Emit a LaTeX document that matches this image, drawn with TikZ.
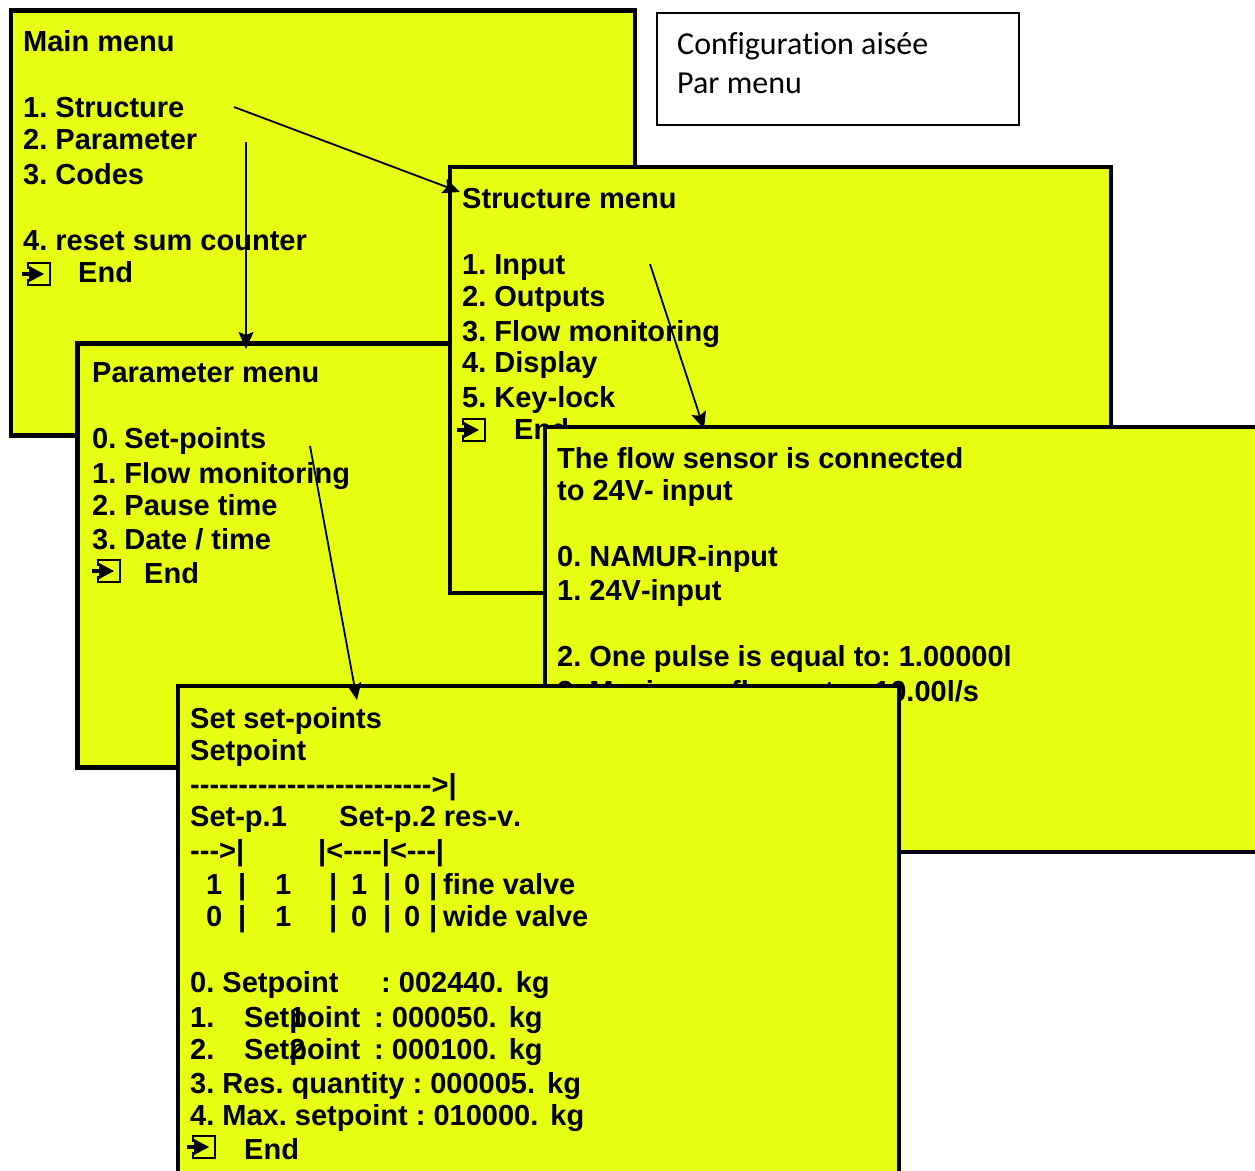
\documentclass[tikz,border=0pt]{standalone}
\usepackage{fontspec}
\usetikzlibrary{arrows.meta}
\newfontfamily\menufont{Liberation Sans}[Ligatures=NoCommon,Kerning=Off]
\newfontfamily\notefont{Carlito}[Ligatures=NoCommon]
\definecolor{menuyellow}{HTML}{E6FF12}
\newcommand{\kgunit}{.\hspace{4pt} kg}
\tikzset{
  menubox/.style={draw=black,line width=4.5pt,fill=menuyellow,anchor=north west,inner sep=0pt,outer sep=0pt},
  menuline/.style={anchor=base west,inner sep=0pt,font=\menufont\bfseries\fontsize{29}{29}\selectfont\frenchspacing},
  noteline/.style={anchor=base west,inner sep=0pt,font=\notefont\fontsize{32}{30}\selectfont},
  menulink/.style={line width=1.8pt,-{Stealth[length=17pt,width=15pt,inset=3pt]}},
  endicon/.pic={
    \draw[line width=1.8pt] (0,-5) -- (0,-11) -- (22,-11) -- (22,11) -- (0,11) -- (0,5);
    \draw[line width=4pt] (-6,0) -- (4,0);
    \fill (1,-8) -- (16,0) -- (1,8) -- cycle;
  }
}
\begin{document}
\begin{tikzpicture}[x=1pt,y=-1pt]
\clip (0,0) rectangle (1255,1170);

\node[draw=black,line width=1.5pt,fill=white,anchor=north west,inner sep=0pt,outer sep=0pt,minimum width=362pt,minimum height=112pt] (notebox) at (657,13) {};
\node[noteline] (note1) at (677,54) {Configuration aisée};
\node[noteline] (note2) at (677,93) {Par menu};

\node[menubox,minimum width=624pt,minimum height=425pt] (mainbox) at (11,10.5) {};
\node[menuline] (main0) at (23,51) {Main menu};
\foreach \y/\t in {117/{1. Structure},149/{2. Parameter},184/{3. Codes},250/{4. reset sum counter}}
  \node[menuline] (main\y) at (23,\y) {\t};
\pic at (28,274) {endicon};
\node[menuline] (mainend) at (78,282) {End};

\node[menubox,minimum width=640pt,minimum height=424pt] (parambox) at (77.5,343.5) {};
\node[menuline] (param0) at (92,382) {Parameter menu};
\foreach \y/\t in {448/{0. Set-points},483/{1. Flow monitoring},515/{2. Pause time},549/{3. Date / time}}
  \node[menuline] (param\y) at (92,\y) {\t};
\pic at (98,571) {endicon};
\node[menuline] (paramend) at (144,583) {End};

\node[menubox,minimum width=661pt,minimum height=426pt] (structbox) at (450,167) {};
\node[menuline] (struct0) at (462,208) {Structure menu};
\foreach \y/\t in {274/{1. Input},306/{2. Outputs},341/{3. Flow monitoring},372/{4. Display},407/{5. Key-lock}}
  \node[menuline] (struct\y) at (462,\y) {\t};
\pic at (463,430) {endicon};
\node[menuline] (structend) at (514,439) {End};

\node[menubox,minimum width=740pt,minimum height=425pt] (flowbox) at (545,427) {};
\foreach \y/\t in {468/{The flow sensor is connected},500/{to 24V- input},566/{0. NAMUR-input},600/{1. 24V-input},666/{2. One pulse is equal to: 1.00000l},701/{3. Maximum flow rate:\hspace{6pt} 10.00l/s}}
  \node[menuline] (flow\y) at (557,\y) {\t};

\node[menubox,minimum width=721pt,minimum height=520pt] (setbox) at (178,686) {};
\foreach \y/\t in {728/{Set set-points},760/{Setpoint},794/{------------------------->|},826/{Set-p.1},860/{--->|},992/{0. Setpoint},1027/{1.},1059/{2.},1093/{3. Res. quantity : 000005\kgunit},1125/{4. Max. setpoint : 010000\kgunit}}
  \node[menuline] (set\y) at (190,\y) {\t};
\node[menuline] (setp2) at (339,826) {Set-p.2 res-v.};
\node[menuline] (setbar) at (318,860) {|<----|<---|};
\foreach \x/\t in {206/1,238/|,275/1,329/|,351/1,383/|,404/0,429/|,443/fine valve}
  \node[menuline] (fine\x) at (\x,894) {\t};
\foreach \x/\t in {206/0,238/|,275/1,329/|,351/0,383/|,404/0,429/|,443/wide valve}
  \node[menuline] (wide\x) at (\x,926) {\t};
\node[menuline] (value0) at (381,992) {: 002440\kgunit};
\node[menuline] (point1) at (244,1027) {Set\rlap{1}point};
\node[menuline] (value1) at (374,1027) {: 000050\kgunit};
\node[menuline] (point2) at (244,1059) {Set\rlap{2}point};
\node[menuline] (value2) at (374,1059) {: 000100\kgunit};
\pic at (193,1147) {endicon};
\node[menuline] (setend) at (244,1159) {End};

\coordinate (structfrom) at (234,107);
\coordinate (structto) at (460,192);
\coordinate (paramfrom) at (246,142);
\coordinate (paramto) at (246,349);
\coordinate (flowfrom) at (650,264);
\coordinate (flowto) at (704,429);
\coordinate (setfrom) at (310,446);
\coordinate (setto) at (357,700);
\draw[menulink] (structfrom) -- (structto);
\draw[menulink] (paramfrom) -- (paramto);
\draw[menulink] (flowfrom) -- (flowto);
\draw[menulink] (setfrom) -- (setto);
\end{tikzpicture}
\end{document}
